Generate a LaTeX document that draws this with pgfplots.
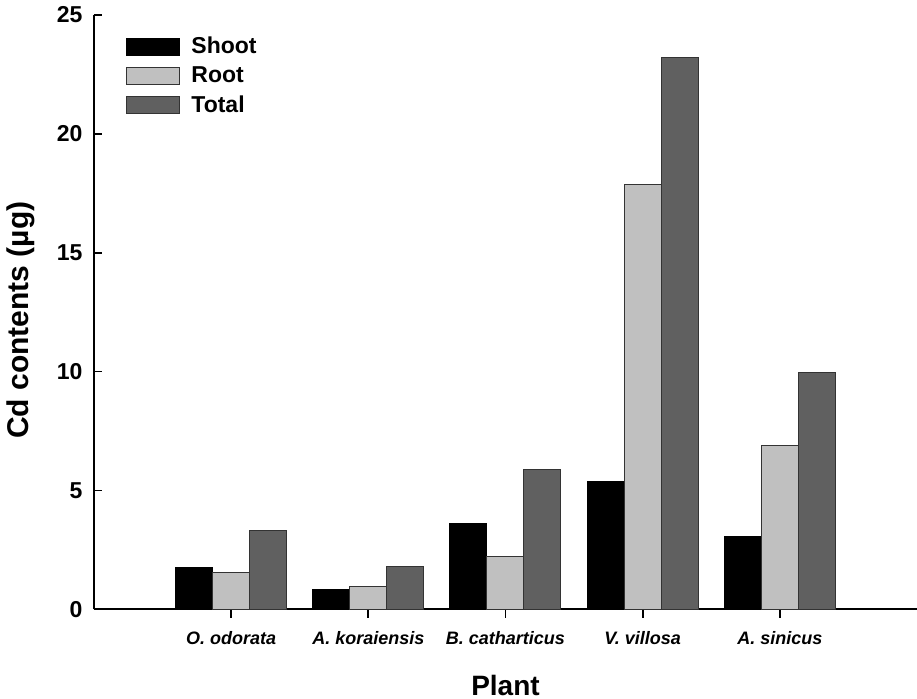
\documentclass[border=0pt]{standalone}
\usepackage{pgfplots}
\pgfplotsset{compat=1.18}
\usepackage{fontspec}
\setmainfont{Liberation Sans}
\definecolor{rootgray}{HTML}{C0C0C0}
\definecolor{totalgray}{HTML}{606060}
\begin{document}
\begin{tikzpicture}
\begin{axis}[
  scale only axis, width=411.5pt, height=297.15pt,
  xmin=0, xmax=6, ymin=0, ymax=25,
  axis lines*=left,
  axis line style={line width=0.9pt},
  ybar=0pt, bar width=18.5pt,
  xtick={1,2,3,4,5},
  xticklabels={O. odorata, A. koraiensis, B. catharticus, V. villosa, A. sinicus},
  ytick={0,5,10,15,20,25},
  tick align=outside,
  major tick length=4.25pt,
  tick style={line width=0.9pt, black},
  ytick style={xshift=4.25pt},
  x tick label style={font=\fontsize{9}{10}\selectfont\bfseries\itshape, anchor=center, yshift=-10pt},
  y tick label style={font=\fontsize{11.5}{13}\selectfont\bfseries, anchor=east, xshift=2pt},
  /pgf/number format/assume math mode=true,
  xlabel={Plant}, ylabel={Cd contents (µg)},
  xlabel style={font=\fontsize{14}{16}\selectfont\bfseries, at={(axis description cs:0.5,0)}, anchor=center, yshift=-38pt},
  ylabel style={font=\fontsize{15}{17}\selectfont\bfseries, at={(axis description cs:0,0.5)}, anchor=center, yshift=36.5pt, xshift=-4pt},
  legend style={draw=none, fill=none, at={(axis description cs:0.0389,0.967)}, anchor=north west,
    font=\fontsize{11.5}{13}\selectfont\bfseries, inner sep=0pt, row sep=3pt,
    nodes={inner sep=1pt},
    /tikz/every odd column/.append style={column sep=4.5pt}},
  legend cell align=left,
  legbox/.style={legend image code/.code={\draw[##1] (0pt,-4.17pt) rectangle (26.5pt,4.17pt);}},
]
\addplot[fill=black, draw=black, line width=0.5pt, legbox] coordinates {(1,1.77) (2,0.84) (3,3.62) (4,5.37) (5,3.05)};
\addplot[fill=rootgray, draw=black!80, line width=0.5pt, legbox] coordinates {(1,1.56) (2,0.97) (3,2.24) (4,17.86) (5,6.91)};
\addplot[fill=totalgray, draw=black!80, line width=0.5pt, legbox] coordinates {(1,3.32) (2,1.79) (3,5.86) (4,23.20) (5,9.95)};
\legend{Shoot, Root, Total}
\end{axis}
\pgfresetboundingbox
\path (-47pt,-44.85pt) rectangle (411.5pt,304.65pt);
\end{tikzpicture}
\end{document}
